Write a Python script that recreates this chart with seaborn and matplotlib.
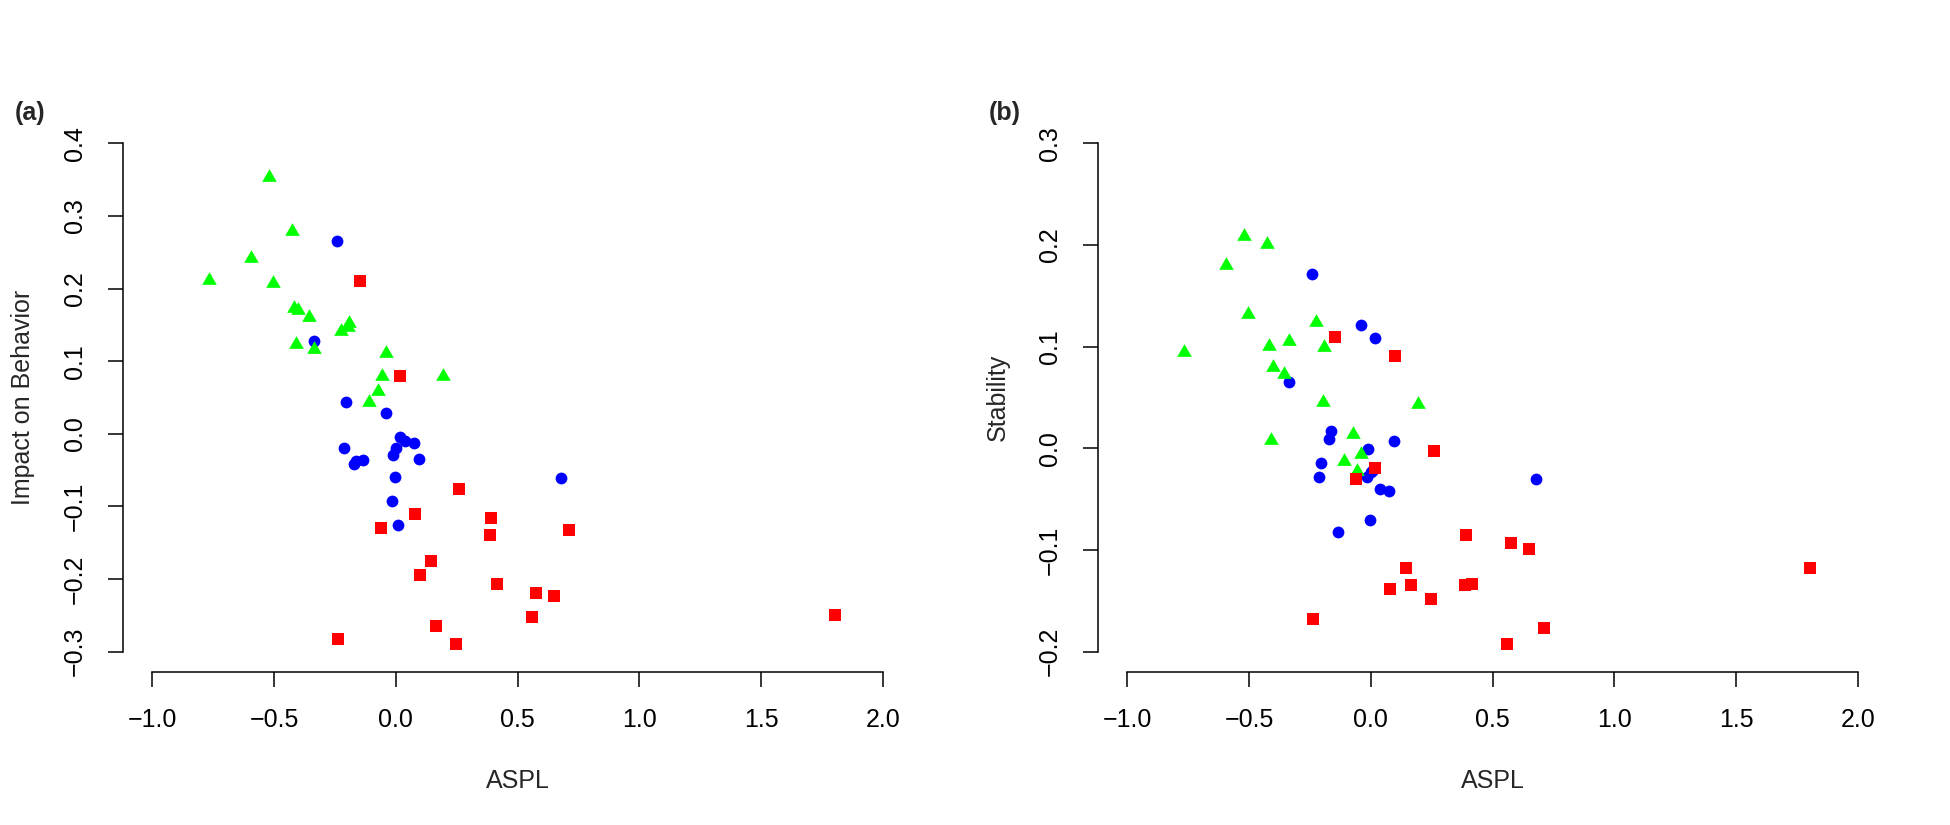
import pandas as pd
import numpy as np
import matplotlib
matplotlib.use('Agg')
import matplotlib.pyplot as plt
import seaborn as sns

# values
green_aspl = [-0.522, -0.425, -0.594, -0.768, -0.506, -0.417, -0.403, -0.355, -0.190,
              -0.196, -0.226, -0.410, -0.337, -0.039, -0.058, 0.192, -0.074, -0.108]
green_impact = [0.356, 0.282, 0.245, 0.214, 0.210, 0.176, 0.173, 0.163, 0.155,
                0.150, 0.144, 0.127, 0.119, 0.114, 0.082, 0.083, 0.062, 0.046]
green_stability = [0.211, 0.203, 0.182, 0.097, 0.134, 0.103, 0.082, 0.075, 0.102,
                   0.048, 0.126, 0.010, 0.108, -0.004, -0.020, 0.046, 0.016, -0.010]

blue_aspl = [-0.241, -0.335, -0.206, -0.042, 0.018, 0.039, 0.073, -0.214, 0.002,
             -0.013, -0.163, -0.135, -0.173, 0.096, -0.002, -0.016, 0.010, 0.677]
blue_impact = [0.265, 0.128, 0.044, 0.028, -0.004, -0.010, -0.012, -0.019, -0.020,
               -0.029, -0.037, -0.036, -0.042, -0.035, -0.059, -0.093, -0.126, -0.061]
blue_stability = [0.171, 0.065, -0.014, 0.121, 0.109, -0.040, -0.042, -0.028, -0.023,
                  -0.001, 0.017, -0.082, 0.009, 0.007, -0.070, -0.028, -0.021, -0.030]

red_aspl = [-0.147, 0.016, 0.261, 0.080, -0.062, 0.391, 0.387, 0.146, 0.099,
            0.415, 0.166, 0.248, -0.236, 0.712, 0.576, 0.648, 0.559, 1.805]
red_impact = [0.211, 0.079, -0.076, -0.111, -0.130, -0.116, -0.139, -0.175, -0.194,
              -0.207, -0.264, -0.289, -0.282, -0.133, -0.219, -0.223, -0.252, -0.249]
red_stability = [0.110, -0.019, -0.003, -0.138, -0.030, -0.085, -0.134, -0.118, 0.091,
                 -0.133, -0.134, -0.148, -0.168, -0.177, -0.093, -0.099, -0.192, -0.118]

x_ticks = [-1.0, -0.5, 0.0, 0.5, 1.0, 1.5, 2.0]
impact_ticks = [-0.3, -0.2, -0.1, 0.0, 0.1, 0.2, 0.3, 0.4]
stability_ticks = [-0.2, -0.1, 0.0, 0.1, 0.2, 0.3]

sns.set_theme(style='ticks')
plt.rcParams['font.family'] = ['Liberation Sans', 'DejaVu Sans']

groups = {
    'blue': (blue_aspl, blue_impact, blue_stability, 'o', 72),
    'green': (green_aspl, green_impact, green_stability,
              [(-1, -0.87), (1, -0.87), (0, 0.87)], 110),
    'red': (red_aspl, red_impact, red_stability, 's', 68),
}
colors = {'blue': '#0000FF', 'green': '#00FF00', 'red': '#FF0000'}

fig = plt.figure(figsize=(19.5, 8.25), dpi=100)
ax_a = fig.add_axes([0.06308, 0.18545, 0.40462, 0.66545])
ax_b = fig.add_axes([0.56308, 0.18545, 0.40462, 0.66545])

panels = [
    (ax_a, 1, 'Impact on Behavior', impact_ticks, '(a)', 30),
    (ax_b, 2, 'Stability', stability_ticks, '(b)', 1005),
]

for ax, col, ylab, yticks, tag, tag_x in panels:
    for name, g in groups.items():
        df = pd.DataFrame({'ASPL': g[0], 'value': g[col]})
        sns.scatterplot(data=df, x='ASPL', y='value', ax=ax, color=colors[name],
                        marker=g[3], s=g[4], linewidth=0, legend=False, zorder=3)
    lo, hi = yticks[0], yticks[-1]
    ext = (hi - lo) * 0.04
    ax.set_ylim(lo - ext, hi + ext)
    ax.set_xlim(-1.12, 2.12)
    ax.set_xticks(x_ticks)
    ax.set_xticklabels([f'{t:.1f}'.replace('-', '\u2212') for t in x_ticks])
    ax.set_yticks(yticks)
    ax.set_yticklabels([f'{t:.1f}'.replace('-', '\u2212') for t in yticks])
    for s in ['top', 'right']:
        ax.spines[s].set_visible(False)
    ax.spines['left'].set_bounds(lo, hi)
    ax.spines['bottom'].set_bounds(x_ticks[0], x_ticks[-1])
    for s in ['left', 'bottom']:
        ax.spines[s].set_color('black')
        ax.spines[s].set_linewidth(1.1)
    ax.tick_params(axis='both', direction='out', length=10.8, width=1.1,
                   colors='black', labelsize=18, pad=15)
    plt.setp(ax.get_yticklabels(), rotation=90, va='center')
    ax.set_xlabel('ASPL', fontsize=18)
    ax.set_ylabel(ylab, fontsize=18)
    ax.xaxis.set_label_coords(0.5, -0.198)
    ax.yaxis.set_label_coords(-0.127, 0.5)
    ax.xaxis.label.set_va('center')
    ax.yaxis.label.set_va('center')
    ax.grid(False)
    fig.text(tag_x / 1950, 1 - 113 / 825, tag, ha='center', va='center',
             fontsize=18, fontweight='bold')

fig.savefig('out.png', dpi=100, facecolor='white')
